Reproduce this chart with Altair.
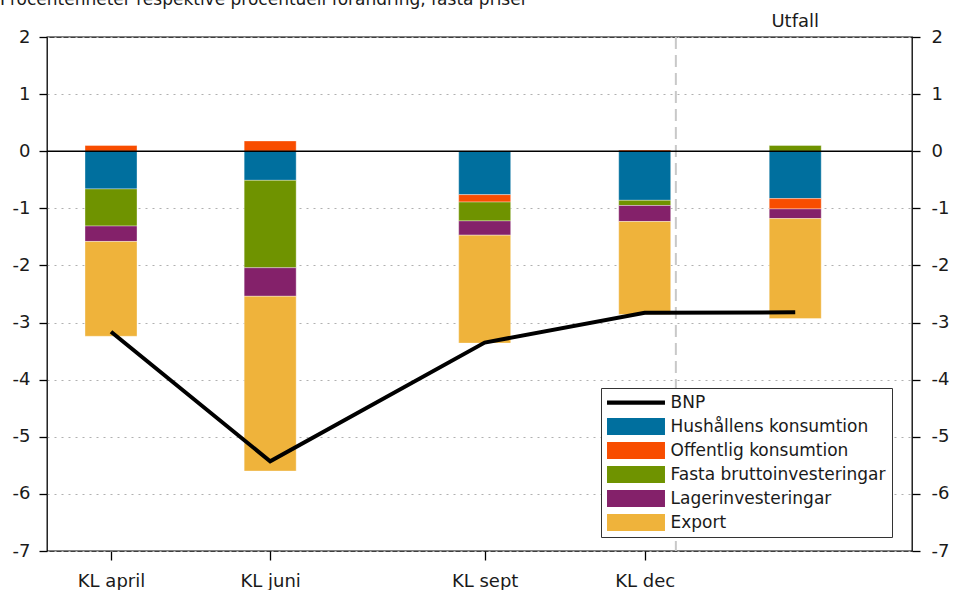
import altair as alt
import pandas as pd

# ---- data ----
categories = ["KL april", "KL juni", "KL sept", "KL dec", "Utfall"]
x_pos = [7.4, 25.8, 50.6, 69.1, 86.5]
tick_labels = ["KL april", "KL juni", "KL sept", "KL dec"]
tick_pos = [7.4, 25.8, 50.6, 69.1]
separator_pos = [72.7]

series = ["Hushållens konsumtion", "Offentlig konsumtion",
          "Fasta bruttoinvesteringar", "Lagerinvesteringar", "Export"]
hushall = [-0.66, -0.51, -0.76, -0.86, -0.83]
offentlig = [0.10, 0.18, -0.13, 0.02, -0.18]
fasta = [-0.65, -1.53, -0.33, -0.09, 0.10]
lager = [-0.27, -0.50, -0.25, -0.28, -0.17]
export = [-1.66, -3.06, -1.89, -1.63, -1.75]
bnp = [-3.16, -5.43, -3.35, -2.83, -2.82]
y_ticks = [-7, -6, -5, -4, -3, -2, -1, 0, 1, 2]

title_text = "Procentenheter respektive procentuell förändring, fasta priser"
utfall_text = "Utfall"
legend_domain = ["BNP"] + series
legend_colors = ["#000000", "#006f9e", "#f84d00", "#6f9300", "#84216a", "#efb33b"]

FONT = "DejaVu Sans"
TXT = "#1a1a1a"

# ---- tables ----
rows = []
for i, (cat, xp) in enumerate(zip(categories, x_pos)):
    for j, (s, vals) in enumerate(zip(series, [hushall, offentlig, fasta, lager, export])):
        rows.append({"cat": cat, "x": xp, "series": s, "value": vals[i], "idx": j})
bars_df = pd.DataFrame(rows)
line_df = pd.DataFrame({"x": x_pos, "bnp": bnp, "cat": categories})
sep_df = pd.DataFrame({"x": separator_pos})
zero_df = pd.DataFrame({"z": [0]})
utf_df = pd.DataFrame({"x": [x_pos[-1]], "t": [utfall_text]})
title_df = pd.DataFrame({"t": [title_text]})

xscale = alt.Scale(domain=[0, 100], nice=False, zero=False, padding=0)
yscale = alt.Scale(domain=[-7, 2], nice=False, zero=False)

label_expr = " : ".join(f"datum.value == {p} ? '{l}'" for p, l in zip(tick_pos, tick_labels)) + " : ''"

x_axis = alt.Axis(orient="bottom", values=tick_pos, labelExpr=label_expr, title=None, grid=False,
                  ticks=True, labels=True,
                  tickSize=9, tickColor="black", tickWidth=1.3, domain=False,
                  labelPadding=12, labelFont=FONT, labelFontSize=18, labelColor=TXT,
                  labelFlush=False, labelOverlap=False)

left_axis = alt.Axis(orient="left", values=y_ticks, title=None, grid=True,
                     gridColor="#b0b0b0", gridDash=[2, 5], gridWidth=1,
                     tickSize=8, tickColor="black", tickWidth=1.3, domain=False,
                     labelPadding=9, labelFont=FONT, labelFontSize=18, labelColor=TXT,
                     labelExpr="datum.value + ''", labelFlush=False, labelOverlap=False)

right_axis = alt.Axis(orient="right", values=y_ticks, title=None, grid=False,
                      tickSize=8, tickColor="black", tickWidth=1.3, domain=False,
                      labelPadding=11, labelFont=FONT, labelFontSize=18, labelColor=TXT,
                      labelExpr="datum.value + ''", labelFlush=False, labelOverlap=False)

shape_expr = ("datum.value === 'BNP' ? 'M-3.41,-0.25H3.41V0.25H-3.41Z' "
              ": 'M-3.41,-1H3.41V1H-3.41Z'")

legend = alt.Legend(title=None, orient="none", legendX=554, legendY=351,
                    symbolType=alt.ExprRef(expr=shape_expr), symbolSize=289,
                    symbolStrokeWidth=0, labelFont=FONT, labelFontSize=17,
                    labelColor=TXT, labelOffset=26, symbolOffset=20.5,
                    rowPadding=6.0, padding=6, strokeColor="#333333",
                    fillColor="white", labelLimit=400)

X = alt.X("x:Q", scale=xscale, axis=x_axis)

sep = alt.Chart(sep_df).mark_rule(color="#c8c8c8", strokeWidth=2, strokeDash=[12, 6]).encode(
    x=X
)

bars = alt.Chart(bars_df).mark_bar(size=52, orient="vertical", stroke="white",
                                   strokeWidth=0.6, strokeOpacity=0.6).encode(
    x=X,
    y=alt.Y("value:Q", stack="zero", scale=yscale, axis=left_axis),
    color=alt.Color("series:N", scale=alt.Scale(domain=legend_domain, range=legend_colors),
                    legend=legend),
    order=alt.Order("idx:Q", sort="ascending"),
)

zero = alt.Chart(zero_df).mark_rule(color="black", strokeWidth=1.5).encode(
    y=alt.Y("z:Q", scale=yscale, axis=None)
)

line = alt.Chart(line_df).mark_line(color="black", strokeWidth=4).encode(
    x=X,
    y=alt.Y("bnp:Q", scale=yscale, axis=right_axis),
)

utf = alt.Chart(utf_df).mark_text(align="center", baseline="alphabetic", font=FONT,
                                  fontSize=18, color=TXT).encode(
    x=X,
    y=alt.value(-10),
    text="t:N",
)

title = alt.Chart(title_df).mark_text(align="left", baseline="alphabetic", font=FONT,
                                      fontSize=17, color=TXT).encode(
    x=alt.value(-47),
    y=alt.value(-32),
    text="t:N",
)

chart = alt.layer(sep, bars, zero, line, utf, title).resolve_axis(
    y="independent"
).properties(
    width=865, height=514,
    autosize=alt.AutoSizeParams(type="none"),
    padding={"left": 47, "top": 37, "right": 50, "bottom": 39},
    background="white",
).configure_view(stroke="black", strokeWidth=1.3)

chart.save("out.html", embed_options={"renderer": "svg", "actions": False})
